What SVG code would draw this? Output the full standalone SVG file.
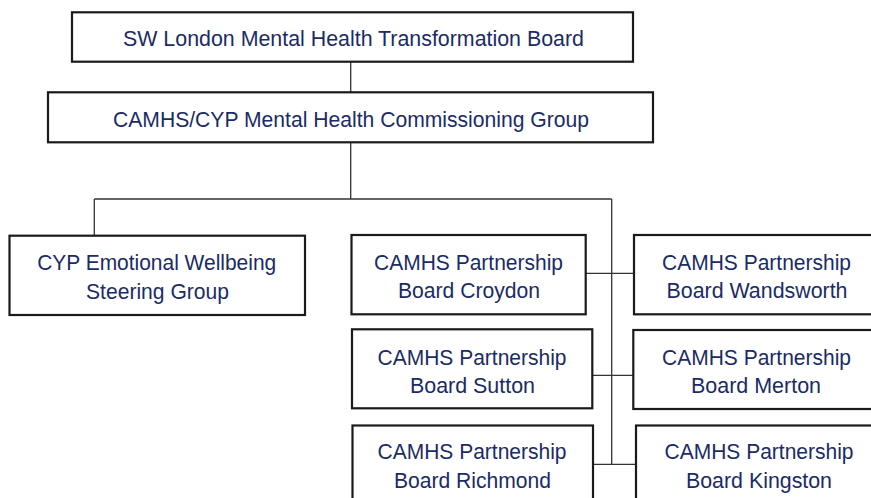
<svg xmlns="http://www.w3.org/2000/svg" width="871" height="498" viewBox="0 0 871 498">
<style>
.box{fill:#fff;stroke:#1a1a1a;stroke-width:2.2}
.conn{fill:none;stroke:#333;stroke-width:1.3}
text{font-family:"Liberation Sans",Arial,sans-serif;font-size:22px;fill:#1b2b66;text-anchor:middle}
</style>
<rect width="871" height="498" fill="#fff"/>
<g id="connectors">
<path class="conn" d="M350.7 61.5V92.5M350.7 142.5V199M94.3 199H611.7M94.3 199V235.5M611.7 199V464.3M586 273.3H634M591 375.3H633.5M593 464.3H636"/>
</g>
<g id="n-transformation-board">
<rect class="box" x="72" y="12.3" width="561" height="49.4"/>
<text x="353.5" y="46" textLength="461" lengthAdjust="spacingAndGlyphs">SW London Mental Health Transformation Board</text>
</g>
<g id="n-commissioning-group">
<rect class="box" x="48" y="92.3" width="605" height="50"/>
<text x="351" y="126.7" textLength="476" lengthAdjust="spacingAndGlyphs">CAMHS/CYP Mental Health Commissioning Group</text>
</g>
<g id="n-cyp-steering">
<rect class="box" x="9.5" y="235.7" width="295.5" height="79.3"/>
<text x="156.7" y="270" textLength="239" lengthAdjust="spacingAndGlyphs">CYP Emotional Wellbeing</text>
<text x="157.5" y="298.5" textLength="143" lengthAdjust="spacingAndGlyphs">Steering Group</text>
</g>
<g id="n-croydon">
<rect class="box" x="351.5" y="235" width="234.2" height="79.3"/>
<text x="468.5" y="269.5" textLength="189" lengthAdjust="spacingAndGlyphs">CAMHS Partnership</text>
<text x="469" y="297.5" textLength="142" lengthAdjust="spacingAndGlyphs">Board Croydon</text>
</g>
<g id="n-wandsworth">
<rect class="box" x="634" y="235" width="245" height="79.3"/>
<text x="756.5" y="270" textLength="189" lengthAdjust="spacingAndGlyphs">CAMHS Partnership</text>
<text x="757" y="298.3" textLength="181" lengthAdjust="spacingAndGlyphs">Board Wandsworth</text>
</g>
<g id="n-sutton">
<rect class="box" x="352" y="329.3" width="240.3" height="79"/>
<text x="472" y="364.5" textLength="189" lengthAdjust="spacingAndGlyphs">CAMHS Partnership</text>
<text x="472.5" y="393" textLength="125" lengthAdjust="spacingAndGlyphs">Board Sutton</text>
</g>
<g id="n-merton">
<rect class="box" x="633.3" y="330" width="245" height="79"/>
<text x="756.5" y="364.5" textLength="189" lengthAdjust="spacingAndGlyphs">CAMHS Partnership</text>
<text x="756" y="393" textLength="130" lengthAdjust="spacingAndGlyphs">Board Merton</text>
</g>
<g id="n-richmond">
<rect class="box" x="352.5" y="425.5" width="240.5" height="80"/>
<text x="472" y="459" textLength="189" lengthAdjust="spacingAndGlyphs">CAMHS Partnership</text>
<text x="472.5" y="487.5" textLength="157" lengthAdjust="spacingAndGlyphs">Board Richmond</text>
</g>
<g id="n-kingston">
<rect class="box" x="636" y="425.5" width="245" height="80"/>
<text x="759" y="459" textLength="189" lengthAdjust="spacingAndGlyphs">CAMHS Partnership</text>
<text x="759" y="487.5" textLength="146" lengthAdjust="spacingAndGlyphs">Board Kingston</text>
</g>
</svg>
